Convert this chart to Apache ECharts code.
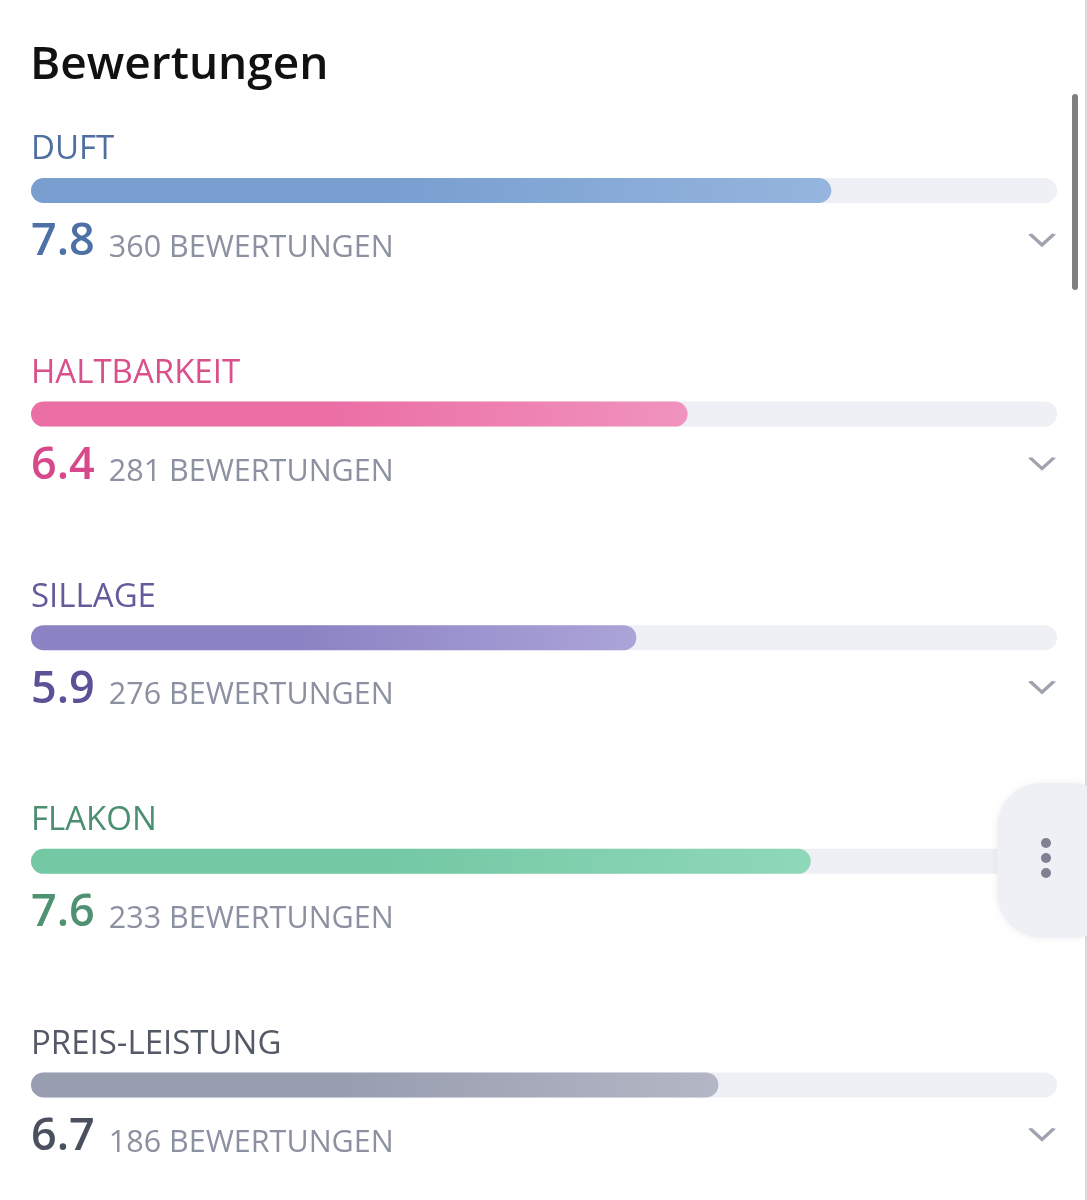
<!DOCTYPE html>
<html>
<head>
<meta charset="utf-8">
<script src="https://cdn.jsdelivr.net/npm/echarts@6/dist/echarts.min.js"></script>
<style>
  html, body { margin: 0; padding: 0; background: #fff; }
  #chart { width: 1087px; height: 1200px; }
</style>
</head>
<body>
<div id="chart"></div>
<script>
window.addEventListener('load', () => {

const categories = ['DUFT', 'HALTBARKEIT', 'SILLAGE', 'FLAKON', 'PREIS-LEISTUNG'];
const scores = [7.8, 6.4, 5.9, 7.6, 6.7];
const counts = [360, 281, 276, 233, 186];
const maxScore = 10;

// label / value colour, gradient start, gradient end
const labelColors = ['#4e6f9f', '#d9508b', '#675a9c', '#4c8e70', '#535966'];
const valueColors = ['#4d70a6', '#d8488a', '#5d4f98', '#4f9272', '#4a505d'];
const barFrom = ['#789fd0', '#eb6ea5', '#8c83c4', '#74c8a4', '#989db0'];
const barTo = ['#96b5de', '#f093be', '#aba4d8', '#8fd8b9', '#b3b7c5'];

const FONT = 'Open Sans';

const chartDom = document.getElementById('chart');
const myChart = echarts.init(chartDom);

const trackData = categories.map((c, i) => ({
  value: maxScore,
  label: { color: labelColors[i] }
}));

const barData = scores.map((v, i) => ({
  value: v,
  itemStyle: {
    color: new echarts.graphic.LinearGradient(0, 0, 1, 0.3, [
      { offset: 0, color: barFrom[i] },
      { offset: 0.45, color: barFrom[i] },
      { offset: 1, color: barTo[i] }
    ])
  },
  label: {
    rich: {
      v: { color: valueColors[i], fontSize: 45, fontWeight: 600, fontFamily: FONT, verticalAlign: 'bottom', lineHeight: 50 },
      c: { color: '#8c91a1', fontSize: 30.5, fontFamily: FONT, verticalAlign: 'bottom', lineHeight: 50, padding: [0, 0, 1, 14] }
    }
  }
}));

const chevronData = categories.map((c, i) => (i === 3 ? null : [maxScore, c]));

const option = {
  animation: false,
  title: {
    text: 'Bewertungen',
    left: 25,
    top: 38,
    textStyle: { fontFamily: FONT, fontSize: 46, fontWeight: 600, color: '#111111' }
  },
  grid: { left: 31, right: 30, top: 78.7, bottom: 3.3 },
  xAxis: { type: 'value', min: 0, max: maxScore, show: false },
  yAxis: {
    type: 'category',
    data: categories,
    inverse: true,
    show: false
  },
  series: [
    {
      type: 'bar',
      data: trackData,
      barWidth: 25,
      barGap: '-100%',
      z: 1,
      silent: true,
      itemStyle: { color: '#eff0f5', borderRadius: 12.5 },
      label: {
        show: true,
        position: [0, -28],
        align: 'left',
        verticalAlign: 'middle',
        fontFamily: FONT,
        fontSize: 33,
        formatter: p => p.name
      }
    },
    {
      type: 'bar',
      data: barData,
      barWidth: 25,
      z: 2,
      itemStyle: { borderRadius: 12.5 },
      label: {
        show: true,
        position: [0, 37],
        align: 'left',
        verticalAlign: 'top',
        formatter: p => `{v|${scores[p.dataIndex]}}{c|${counts[p.dataIndex]} BEWERTUNGEN}`
      }
    },
    {
      type: 'scatter',
      data: chevronData,
      symbol: 'path://M0,0 L12,11 L24,0',
      symbolSize: [24, 11],
      symbolOffset: [-15, 49],
      z: 3,
      itemStyle: { color: 'none', borderColor: '#878b9b', borderWidth: 3 }
    }
  ],
  graphic: [
    {
      type: 'rect',
      z: 100,
      shape: { x: 1072, y: 94, width: 6, height: 196, r: 3 },
      style: { fill: '#7f7f7f' }
    },
    {
      type: 'rect',
      z: 100,
      shape: { x: 1085, y: 0, width: 2, height: 1200 },
      style: { fill: '#dcdcdc' }
    },
    {
      type: 'rect',
      z: 100,
      shape: { x: 997, y: 783, width: 120, height: 155, r: 45 },
      style: { fill: '#eef0f5', shadowBlur: 6, shadowColor: 'rgba(0,0,0,0.06)' }
    },
    { type: 'circle', z: 101, shape: { cx: 1046, cy: 843, r: 5 }, style: { fill: '#7d8191' } },
    { type: 'circle', z: 101, shape: { cx: 1046, cy: 858, r: 5 }, style: { fill: '#7d8191' } },
    { type: 'circle', z: 101, shape: { cx: 1046, cy: 873, r: 5 }, style: { fill: '#7d8191' } }
  ]
};

myChart.setOption(option);

});
</script>
</body>
</html>
